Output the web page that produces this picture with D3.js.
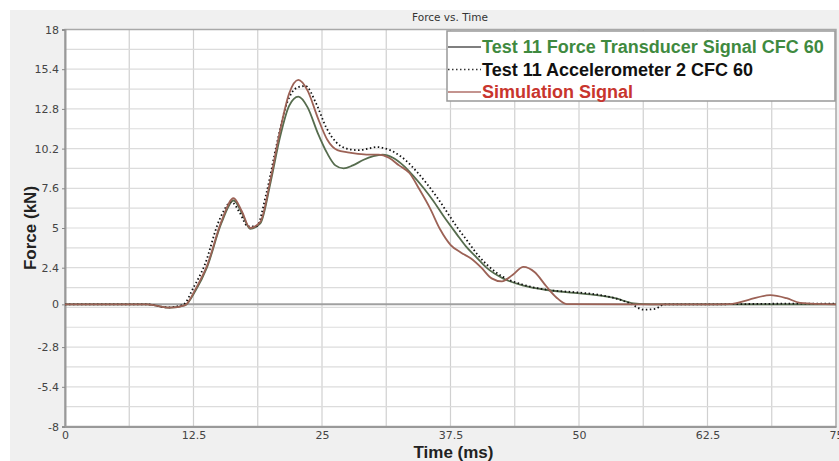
<!DOCTYPE html>
<html>
<head>
<meta charset="utf-8">
<script src="https://cdn.jsdelivr.net/npm/d3@7"></script>
<style>
  body { margin: 0; background: #fff; }
  svg { display: block; }
</style>
</head>
<body>
<svg id="chart" width="839" height="461"></svg>
<script>
// data
var simTime = [0, 8, 10.2, 11.7, 12.7, 13.8, 15.2, 16.4, 17.2, 18.0, 19.0, 20.0, 20.9, 21.8, 22.7, 23.6, 24.6, 25.5, 26.5, 27.5, 28.5, 29.5, 30.5, 31.5, 32.5, 33.5, 34.5, 35.5, 36.5, 37.5, 38.5, 39.5, 40.5, 41.5, 42.5, 43.5, 44.6, 45.7, 46.8, 47.8, 48.8, 55, 62, 64.7, 66.5, 68.6, 70.2, 71.5, 75];
var simForce = [0, 0, -0.22, -0.05, 1.0, 2.5, 5.4, 6.95, 6.1, 5.0, 5.4, 8.2, 11.3, 13.8, 14.7, 14.0, 12.2, 10.8, 10.1, 9.95, 9.85, 9.8, 9.8, 9.6, 9.1, 8.6, 7.5, 6.3, 4.9, 3.9, 3.4, 3.0, 2.4, 1.7, 1.5, 1.9, 2.45, 2.1, 1.2, 0.45, 0.02, 0, 0, 0.02, 0.3, 0.6, 0.4, 0.1, 0];

var transTime = [0, 8, 10.2, 11.7, 12.7, 13.8, 15.2, 16.4, 17.2, 18.0, 19.0, 20.0, 20.9, 21.8, 22.7, 23.6, 24.6, 25.5, 26.3, 27.1, 28.0, 29.0, 30.0, 30.9, 31.9, 32.9, 33.9, 34.9, 35.8, 36.8, 38.1, 39.0, 40.0, 41.0, 42.6, 44.5, 46.9, 49.5, 51.7, 53.5, 55.3, 57, 62, 75];
var transForce = [0, 0, -0.22, -0.05, 0.9, 2.4, 5.3, 6.8, 6.0, 4.95, 5.3, 8.0, 10.9, 13.0, 13.6, 12.9, 11.2, 9.9, 9.1, 8.9, 9.1, 9.45, 9.7, 9.8, 9.6, 9.1, 8.4, 7.6, 6.8, 5.8, 4.6, 3.8, 3.1, 2.4, 1.7, 1.25, 0.94, 0.75, 0.6, 0.4, 0.07, 0, 0, 0];

var accTime = [0, 8, 10.0, 11.5, 12.5, 13.6, 15.0, 16.2, 17.0, 17.8, 18.6, 19.6, 20.6, 21.6, 22.6, 23.4, 24.4, 25.4, 26.4, 27.4, 28.5, 29.5, 30.3, 31.2, 32.2, 33.2, 34.2, 35.2, 36.2, 37.2, 38.2, 39.2, 40.2, 41.2, 42.6, 44.5, 46.9, 49.5, 51.7, 53.5, 55.0, 56.3, 57.4, 58.3, 62, 72, 75];
var accForce = [0, 0, -0.2, -0.02, 1.1, 2.6, 5.5, 6.7, 6.0, 5.1, 5.1, 7.3, 10.5, 13.2, 14.2, 14.3, 13.2, 11.6, 10.6, 10.2, 10.1, 10.2, 10.3, 10.2, 9.9, 9.4, 8.7, 7.9, 7.0, 6.0, 5.0, 4.1, 3.2, 2.5, 1.8, 1.3, 0.95, 0.8, 0.65, 0.4, 0.05, -0.35, -0.3, 0, 0, 0.05, 0.05];

var xTicks = [0, 12.5, 25, 37.5, 50, 62.5, 75];
var yTicks = [18, 15.4, 12.8, 10.2, 7.6, 5, 2.4, 0, -2.8, -5.4, -8];
var legendLabels = ["Test 11 Force Transducer Signal CFC 60", "Test 11 Accelerometer 2 CFC 60", "Simulation Signal"];

var svg = d3.select("#chart");
var plotLeft = 65, plotRight = 836, plotTop = 29.5, plotBottom = 426.5;

var x = d3.scaleLinear().domain([0, 75]).range([plotLeft, plotRight]);
var y = d3.scaleLinear().domain([-8, 18]).range([plotBottom, plotTop]);

// grey panel + white plot area
svg.append("rect").attr("x", 10).attr("y", 10).attr("width", 829).attr("height", 451).attr("fill", "#f0f0f0");
svg.append("rect").attr("x", plotLeft).attr("y", plotTop).attr("width", plotRight - plotLeft).attr("height", plotBottom - plotTop).attr("fill", "#fff");

// grid lines
var grid = svg.append("g");
grid.selectAll(".vg").data(d3.range(1, 12).map(function(i) { return i * 6.25; }))
    .enter().append("line")
    .attr("x1", function(d) { return x(d); }).attr("x2", function(d) { return x(d); })
    .attr("y1", plotTop).attr("y2", plotBottom)
    .attr("stroke", "#d0d0d0").attr("stroke-width", 1.2);
grid.selectAll(".hg").data(d3.range(1, 20).map(function(i) { return -8 + i * 1.3; }))
    .enter().append("line")
    .attr("x1", plotLeft).attr("x2", plotRight)
    .attr("y1", function(d) { return y(d); }).attr("y2", function(d) { return y(d); })
    .attr("stroke", "#dcdcdc").attr("stroke-width", 1.2);
// zero line
grid.append("line").attr("x1", plotLeft).attr("x2", plotRight).attr("y1", y(0)).attr("y2", y(0))
    .attr("stroke", "#a0a0a0").attr("stroke-width", 2);

// plot border
svg.append("rect").attr("x", plotLeft).attr("y", plotTop).attr("width", plotRight - plotLeft).attr("height", plotBottom - plotTop)
    .attr("fill", "none").attr("stroke", "#a8a8a8").attr("stroke-width", 1.5);

// axes
var yAxis = svg.append("g").attr("transform", "translate(" + plotLeft + ",0)")
    .call(d3.axisLeft(y).tickValues(yTicks).tickSize(3).tickFormat(function(d) { return d; }));
var xAxis = svg.append("g").attr("transform", "translate(0," + plotBottom + ")")
    .call(d3.axisBottom(x).tickValues(xTicks).tickSize(0).tickPadding(5).tickFormat(function(d) { return d; }));
[xAxis, yAxis].forEach(function(a) {
    a.select(".domain").attr("stroke", "#999").attr("stroke-width", 2);
    a.selectAll(".tick line").attr("stroke", "#888");
    a.selectAll("text").attr("fill", "#444").style("font-family", "DejaVu Sans, sans-serif").style("font-size", "11px");
});

// title and axis labels
svg.append("text").attr("x", 450).attr("y", 21).attr("text-anchor", "middle")
    .style("font-family", "DejaVu Sans, sans-serif").style("font-size", "10.5px").attr("fill", "#333")
    .text("Force vs. Time");
svg.append("text").attr("x", (plotLeft + plotRight) / 2 + 3).attr("y", 458).attr("text-anchor", "middle")
    .style("font-family", "Liberation Sans, Arial, sans-serif").style("font-size", "17px").style("font-weight", "bold").attr("fill", "#222")
    .text("Time (ms)");
svg.append("text").attr("transform", "translate(36," + ((plotTop + plotBottom) / 2) + ") rotate(-90)").attr("text-anchor", "middle")
    .style("font-family", "Liberation Sans, Arial, sans-serif").style("font-size", "17px").style("font-weight", "bold").attr("fill", "#222")
    .text("Force (kN)");

// series
var line = d3.line().x(function(d) { return x(d[0]); }).y(function(d) { return y(d[1]); }).curve(d3.curveMonotoneX);
var series = [
    {t: transTime, v: transForce, color: "#566c4e", dash: null, width: 1.8},
    {t: accTime, v: accForce, color: "#111", dash: "1.5,2.5", width: 1.8},
    {t: simTime, v: simForce, color: "#9c6256", dash: null, width: 1.8}
];
var plot = svg.append("g");
series.forEach(function(s) {
    plot.append("path").datum(d3.zip(s.t, s.v))
        .attr("d", line).attr("fill", "none")
        .attr("stroke", s.color).attr("stroke-width", s.width)
        .attr("stroke-dasharray", s.dash);
});

// legend
var legend = svg.append("g");
legend.append("rect").attr("x", 447).attr("y", 31).attr("width", 388).attr("height", 70)
    .attr("fill", "#fff").attr("stroke", "#999").attr("stroke-width", 1.5);
var legendColors = ["#3f8a3f", "#111", "#c8352d"];
var legendLines = ["#555", "#333", "#b0706a"];
legendLabels.forEach(function(label, i) {
    var ly = 47 + i * 22.5;
    legend.append("line").attr("x1", 448).attr("x2", 481).attr("y1", ly).attr("y2", ly)
        .attr("stroke", legendLines[i]).attr("stroke-width", 1.5)
        .attr("stroke-dasharray", i == 1 ? "1.5,2.5" : null);
    legend.append("text").attr("x", 482).attr("y", ly + 6).text(label)
        .style("font-family", "Liberation Sans, Arial, sans-serif").style("font-size", "18px").style("font-weight", "bold")
        .attr("fill", legendColors[i]);
});
</script>
</body>
</html>
